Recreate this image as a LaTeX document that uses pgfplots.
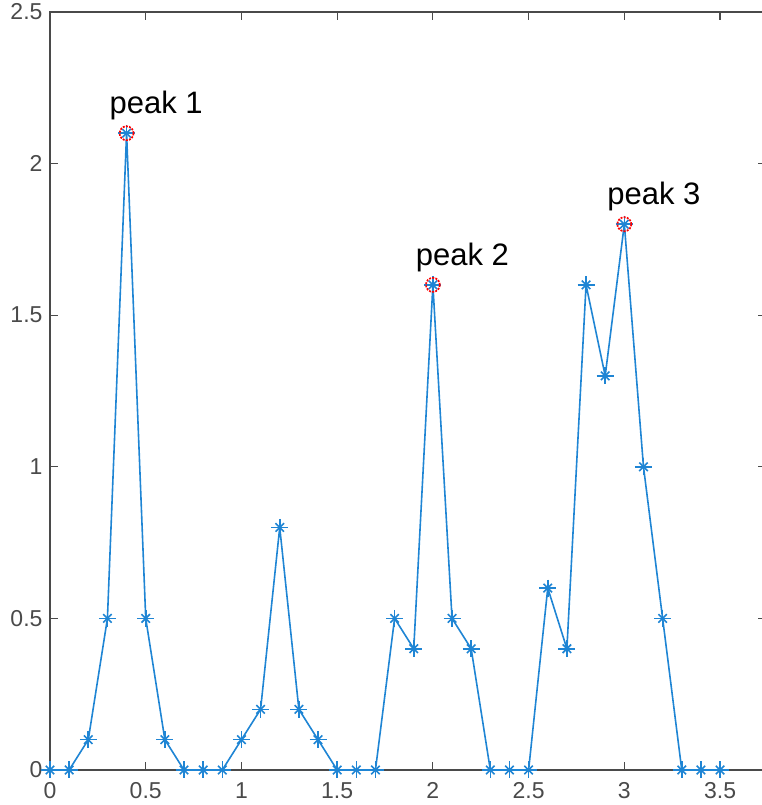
\documentclass[border=0pt]{standalone}
\usepackage{fontspec}
\setmainfont{Liberation Sans}
\usepackage{pgfplots}
\pgfplotsset{compat=1.18}
\definecolor{mblue}{rgb}{0.12,0.52,0.83}
\definecolor{axgray}{HTML}{4A4A4A}
\begin{document}
\begin{tikzpicture}
\useasboundingbox (-50pt,-35pt) rectangle (711pt,770pt);
\begin{axis}[
  at={(0,0)}, anchor=south west,
  scale only axis,
  width=716pt, height=758pt,
  xmin=0, xmax=3.74, ymin=0, ymax=2.5,
  xtick={0,0.5,...,3.5},
  ytick={0,0.5,...,2.5},
  tick align=inside,
  major tick length=8pt,
  axis line style={axgray, line width=1.2pt},
  every tick/.style={axgray, line width=1.2pt},
  tick label style={font=\fontsize{23}{27}\selectfont, text=axgray},
  /pgf/number format/assume math mode=true,
  xticklabel style={yshift=-9pt},
  yticklabel style={xshift=-4pt},
  clip=false,
]
\addplot[mblue, line width=1.6pt, mark=+, mark size=8.5pt,
  mark options={line width=1.6pt}] coordinates {
(0,0) (0.1,0) (0.2,0.1) (0.3,0.5) (0.4,2.1) (0.5,0.5) (0.6,0.1) (0.7,0) (0.8,0) (0.9,0)
(1.0,0.1) (1.1,0.2) (1.2,0.8) (1.3,0.2) (1.4,0.1) (1.5,0) (1.6,0) (1.7,0) (1.8,0.5) (1.9,0.4)
(2.0,1.6) (2.1,0.5) (2.2,0.4) (2.3,0) (2.4,0) (2.5,0) (2.6,0.6) (2.7,0.4) (2.8,1.6) (2.9,1.3)
(3.0,1.8) (3.1,1.0) (3.2,0.5) (3.3,0) (3.4,0) (3.5,0)
};
\addplot[only marks, mblue, mark=x, mark size=6pt,
  mark options={line width=1.6pt}] coordinates {
(0,0) (0.1,0) (0.2,0.1) (0.3,0.5) (0.4,2.1) (0.5,0.5) (0.6,0.1) (0.7,0) (0.8,0) (0.9,0)
(1.0,0.1) (1.1,0.2) (1.2,0.8) (1.3,0.2) (1.4,0.1) (1.5,0) (1.6,0) (1.7,0) (1.8,0.5) (1.9,0.4)
(2.0,1.6) (2.1,0.5) (2.2,0.4) (2.3,0) (2.4,0) (2.5,0) (2.6,0.6) (2.7,0.4) (2.8,1.6) (2.9,1.3)
(3.0,1.8) (3.1,1.0) (3.2,0.5) (3.3,0) (3.4,0) (3.5,0)
};
\addplot[only marks, mark=o, red, mark size=7pt, mark options={line width=1.7pt, dash pattern=on 2pt off 1.2pt}] coordinates {
(0.4,2.1) (2.0,1.6) (3.0,1.8)
};
\node[anchor=west, inner sep=0pt, font=\fontsize{31}{36}\selectfont] at (axis cs:0.31,2.19) {peak 1};
\node[anchor=west, inner sep=0pt, font=\fontsize{31}{36}\selectfont] at (axis cs:1.91,1.69) {peak 2};
\node[anchor=west, inner sep=0pt, font=\fontsize{31}{36}\selectfont] at (axis cs:2.91,1.89) {peak 3};
\end{axis}
\end{tikzpicture}
\end{document}
